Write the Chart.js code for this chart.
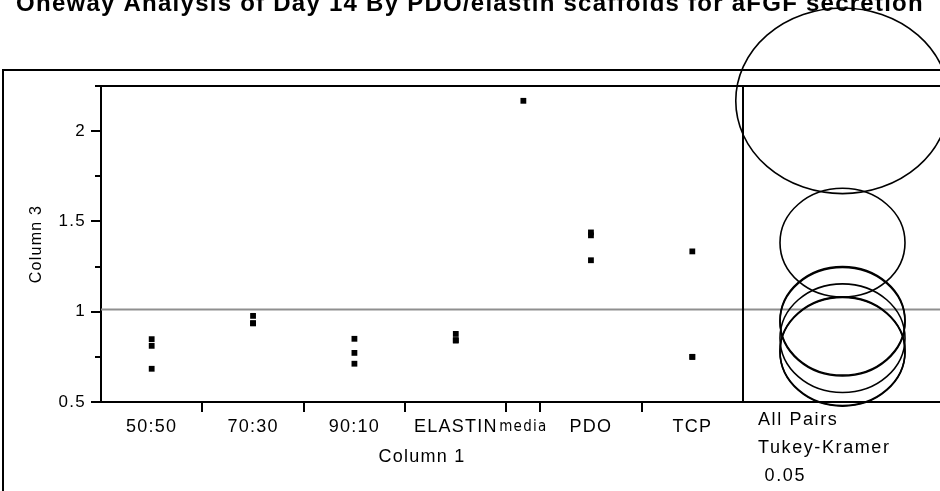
<!DOCTYPE html>
<html>
<head>
<meta charset="utf-8">
<title>Oneway Analysis of Day 14</title>
<script src="https://cdn.jsdelivr.net/npm/chart.js@4.4.1/dist/chart.umd.min.js"></script>
<style>
    html, body { margin: 0; padding: 0; background: #fff; }
    #wrap { width: 940px; height: 491px; }
</style>
</head>
<body>
<div id="wrap"><canvas id="oneway" width="940" height="491"></canvas></div>
<script>
// Groups on the x axis (JMP gives each group a width proportional to its n)
const groups = ["50:50", "70:30", "90:10", "ELASTIN", "media", "PDO", "TCP"];

// Day 14 values, one array per group
const g5050 = [0.848, 0.811, 0.684];
const g7030 = [0.977, 0.936, 0.936];
const g9010 = [0.850, 0.772, 0.712];
const gElastin = [0.877, 0.843, 0.840];
const gMedia = [2.168];
const gPdo = [1.439, 1.423, 1.285];
const gTcp = [1.334, 0.750, 0.750];

// Tukey-Kramer comparison circle radii (Column 3 units)
const circleRadius = [0.301, 0.301, 0.301, 0.301, 0.514, 0.301, 0.301];

// y axis
const yTicks = [0.5, 1, 1.5, 2];
const yMin = 0.5;
const yMax = 2.25;

const panelText = ["All Pairs", "Tukey-Kramer", " 0.05"];

const FONT = "Arial, 'Liberation Sans', sans-serif";
const NARROW = "'Liberation Sans Narrow', 'Arial Narrow', 'DejaVu Sans Condensed', sans-serif";
const TITLE_SPACING = "1.25px";
const SPACING = "1.6px";
const circleAspect = 1.15; // the JMP picture is stretched sideways

// Build positions from the groups
const groupValues = [g5050, g7030, g9010, gElastin, gMedia, gPdo, gTcp];
const starts = [];
let total = 0;
groupValues.forEach(function (v) {
    starts.push(total);
    total += v.length;
});
const centers = groupValues.map((v, i) => starts[i] + v.length / 2);
const bounds = starts.slice(1);
const means = groupValues.map(v => v.reduce((a, b) => a + b, 0) / v.length);
const allValues = groupValues.flat();
const grandMean = allValues.reduce((a, b) => a + b, 0) / allValues.length;

const points = [];
groupValues.forEach(function (v, i) {
    v.forEach(y => points.push({ x: centers[i], y: y }));
});

const isMajor = c => !!c.tick && yTicks.includes(c.tick.value);

// Frame, grand mean line, comparison circles and the right panel text
const jmpFrame = {
    id: "jmpFrame",
    beforeDraw(chart) {
        chart.ctx.letterSpacing = TITLE_SPACING;
    },
    beforeDatasetsDraw(chart) {
        const { ctx, chartArea, scales } = chart;
        const y = scales.y.getPixelForValue(grandMean);
        ctx.save();
        ctx.strokeStyle = "#8f8f8f";
        ctx.lineWidth = 2;
        ctx.beginPath();
        ctx.moveTo(chartArea.left, y);
        ctx.lineTo(chart.width, y);
        ctx.stroke();
        ctx.restore();
    },
    afterDatasetsDraw(chart) {
        // axes are drawn after the points (z: 1)
        chart.ctx.letterSpacing = SPACING;
    },
    afterDraw(chart) {
        const { ctx, chartArea, scales } = chart;
        const panel = scales.yPanel;
        ctx.save();
        ctx.strokeStyle = "#000";
        ctx.lineWidth = 2;
        ctx.beginPath();
        // outer report frame
        ctx.moveTo(3, chart.height);
        ctx.lineTo(3, 70);
        ctx.lineTo(chart.width, 70);
        // inner frame
        ctx.moveTo(chartArea.left, chartArea.top);
        ctx.lineTo(panel.right, chartArea.top);
        ctx.moveTo(chartArea.right, chartArea.top);
        ctx.lineTo(chartArea.right, chartArea.bottom);
        ctx.lineTo(panel.right, chartArea.bottom);
        ctx.stroke();

        // comparison circles
        const cx = (panel.left + panel.right) / 2 + 1;
        ctx.lineWidth = 1.6;
        means.forEach(function (m, i) {
            const cy = scales.y.getPixelForValue(m);
            const ry = scales.y.getPixelForValue(m - circleRadius[i]) - cy;
            ctx.beginPath();
            ctx.ellipse(cx, cy, ry * circleAspect, ry, 0, 0, Math.PI * 2);
            ctx.stroke();
        });

        // All Pairs / Tukey-Kramer / alpha
        ctx.fillStyle = "#000";
        ctx.font = "18px " + FONT;
        ctx.textAlign = "left";
        ctx.textBaseline = "middle";
        ctx.letterSpacing = SPACING;
        panelText.forEach(function (t, i) {
            ctx.fillText(t, chartArea.right + 15, chartArea.bottom + 18 + i * 28);
        });
        ctx.restore();
    }
};

const ctx = document.getElementById("oneway").getContext("2d");

new Chart(ctx, {
    type: "scatter",
    data: {
        datasets: [
            {
                label: "Column 3",
                data: points,
                pointStyle: "rect",
                pointRadius: 4.1,
                pointHoverRadius: 4.1,
                pointBackgroundColor: "#000",
                pointBorderWidth: 0,
                xAxisID: "x",
                yAxisID: "y",
            },
        ],
    },
    options: {
        responsive: false,
        animation: false,
        events: [],
        layout: { padding: 0 },
        plugins: {
            legend: { display: false },
            tooltip: { enabled: false },
            title: {
                display: true,
                text: "Oneway Analysis of Day 14 By PDO/elastin scaffolds for aFGF secretion",
                color: "#000",
                font: { family: FONT, size: 24, weight: "bold", lineHeight: 1.2 },
                padding: { top: -10.2, bottom: 67.4 },
            },
        },
        scales: {
            y: {
                type: "linear",
                position: "left",
                z: 1,
                min: yMin,
                max: yMax,
                afterFit: function (scale) {
                    scale.width = 101;
                },
                ticks: {
                    stepSize: 0.25,
                    color: "#000",
                    padding: 5,
                    font: { family: FONT, size: 17 },
                    callback: v => (yTicks.includes(v) ? String(v) : ""),
                },
                grid: {
                    drawOnChartArea: false,
                    drawTicks: true,
                    tickLength: 10,
                    color: "#000",
                    lineWidth: 2,
                    // minor ticks: only the 6px next to the axis
                    tickBorderDash: c => (isMajor(c) ? [] : [6, 14]),
                    tickBorderDashOffset: c => (isMajor(c) ? 0 : 16),
                },
                border: { display: true, color: "#000", width: 2 },
                title: {
                    display: true,
                    text: "Column 3",
                    color: "#000",
                    font: { family: FONT, size: 16 },
                    padding: { top: 27, bottom: 0 },
                },
            },
            yPanel: {
                type: "linear",
                position: "right",
                min: yMin,
                max: yMax,
                afterFit: function (scale) {
                    scale.width = 197;
                },
                ticks: { display: false },
                grid: { display: false, drawTicks: false },
                border: { display: false },
            },
            x: {
                type: "linear",
                position: "bottom",
                z: 1,
                weight: 0,
                min: 0,
                max: total,
                afterBuildTicks: function (scale) {
                    scale.ticks = bounds.map(v => ({ value: v }));
                },
                afterFit: function (scale) {
                    scale.height = 10;
                },
                ticks: { display: false, autoSkip: false },
                grid: {
                    drawOnChartArea: false,
                    drawTicks: true,
                    tickLength: 10,
                    color: "#000",
                    lineWidth: 2,
                },
                border: { display: true, color: "#000", width: 2 },
            },
            xCat: {
                type: "linear",
                position: "bottom",
                z: 1,
                weight: 1,
                min: 0,
                max: total,
                afterBuildTicks: function (scale) {
                    scale.ticks = centers.map(v => ({ value: v }));
                },
                afterFit: function (scale) {
                    scale.height = 79;
                },
                ticks: {
                    autoSkip: false,
                    maxRotation: 0,
                    minRotation: 0,
                    padding: 4,
                    color: "#000",
                    // a one-sample group is narrow, so its label is set in a narrow face
                    font: function (c) {
                        const n = groupValues[c.index] ? groupValues[c.index].length : 3;
                        return n < 2
                            ? { family: NARROW, size: 15, lineHeight: "21.6px" }
                            : { family: FONT, size: 18, lineHeight: "21.6px" };
                    },
                    callback: (v, i) => groups[i],
                },
                grid: { display: false, drawTicks: false },
                border: { display: false },
                title: {
                    display: true,
                    text: "Column 1",
                    color: "#000",
                    font: { family: FONT, size: 18 },
                    padding: { top: 0, bottom: 23 },
                },
            },
        },
    },
    plugins: [jmpFrame],
});
</script>
</body>
</html>
